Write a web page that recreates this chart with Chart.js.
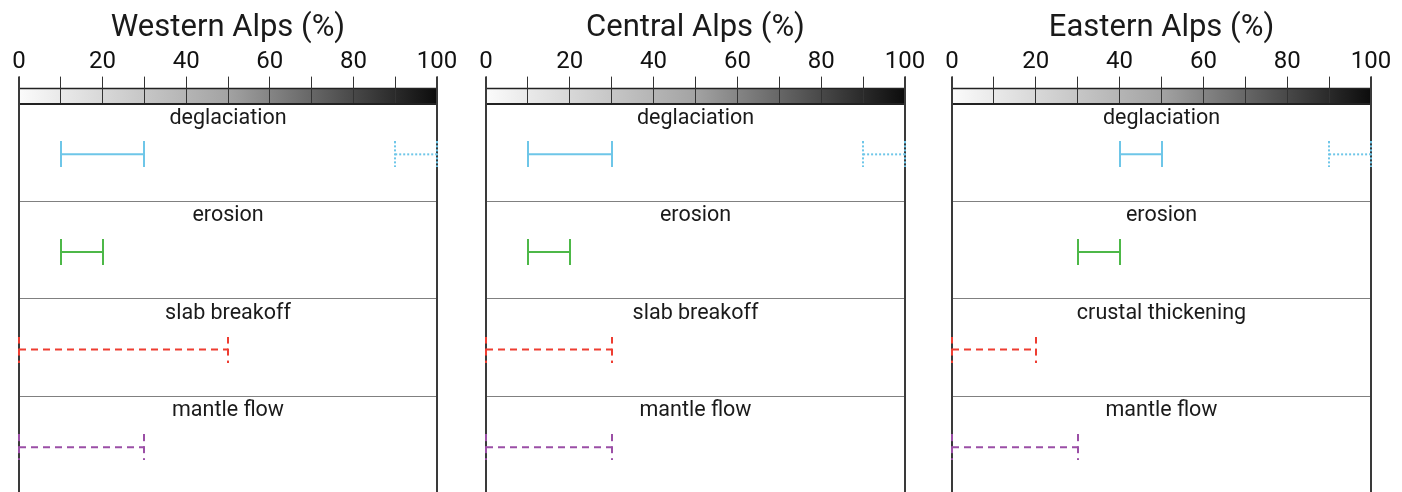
<!DOCTYPE html>
<html>
<head>
<meta charset="utf-8">
<title>Alps</title>
<script src="https://cdn.jsdelivr.net/npm/chart.js@4"></script>
<style>
  html, body { margin: 0; padding: 0; background: #fff; overflow: hidden; }
  #wrap { position: relative; width: 1402px; height: 492px; overflow: hidden; }
  #wrap canvas { position: absolute; top: 0; }
</style>
</head>
<body>
<div id="wrap">
  <canvas id="west" width="467" height="494" style="left:0"></canvas>
  <canvas id="central" width="467" height="494" style="left:467px"></canvas>
  <canvas id="east" width="469" height="494" style="left:933px"></canvas>
</div>
<script>
// tick labels on the percentage axis
const tickLabels = [0, 20, 40, 60, 80, 100];

// row names
const westProcesses = ['deglaciation', 'erosion', 'slab breakoff', 'mantle flow'];
const centralProcesses = ['deglaciation', 'erosion', 'slab breakoff', 'mantle flow'];
const eastProcesses = ['deglaciation', 'erosion', 'crustal thickening', 'mantle flow'];

// contribution ranges (%)
const westLow = [10, 10, 0, 0];
const westHigh = [30, 20, 50, 30];
const centralLow = [10, 10, 0, 0];
const centralHigh = [30, 20, 30, 30];
const eastLow = [40, 30, 0, 0];
const eastHigh = [50, 40, 20, 30];

// second (dotted) deglaciation range: west, central, east
const deglacUpperLow = [90, 90, 90];
const deglacUpperHigh = [100, 100, 100];

// styles
const rowColors = ['#6ec6e8', '#4db848', '#ee3d31', '#9b4fa6'];
const rowDash = [[], [], [7, 5], [7, 5]];
const upperDash = [2, 2];
const FONT = 'Roboto';
const ROW_OFFSET = 0.52;

function capImage(color, dash) {
  const c = document.createElement('canvas');
  c.width = 2;
  c.height = 26;
  const g = c.getContext('2d');
  g.strokeStyle = color;
  g.lineWidth = 2;
  g.setLineDash(dash);
  g.beginPath();
  g.moveTo(1, 0);
  g.lineTo(1, 26);
  g.stroke();
  return c;
}

function rangeSet(lo, hi, row, color, dash) {
  return {
    data: [{ x: lo, y: row + ROW_OFFSET }, { x: hi, y: row + ROW_OFFSET }],
    borderColor: color,
    borderWidth: 2,
    borderDash: dash,
    pointStyle: capImage(color, dash),
    pointRadius: 13,
    pointHoverRadius: 13,
    showLine: true,
    fill: false,
    clip: false
  };
}

const frame = {
  id: 'frame',
  beforeDraw(chart) {
    const ctx = chart.ctx;
    const x = chart.scales.x;
    const top = chart.chartArea.top;
    const x0 = x.getPixelForValue(0);
    const x1 = x.getPixelForValue(100);
    const grad = ctx.createLinearGradient(x0, 0, x1, 0);
    grad.addColorStop(0, '#fbfbfb');
    grad.addColorStop(0.5, '#a3a3a3');
    grad.addColorStop(1, '#0c0c0c');
    ctx.save();
    ctx.fillStyle = grad;
    ctx.fillRect(x0, top - 15, x1 - x0, 15);
    ctx.strokeStyle = '#222';
    ctx.lineWidth = 1.5;
    ctx.beginPath();
    ctx.moveTo(x0, top - 15);
    ctx.lineTo(x1, top - 15);
    ctx.stroke();
    ctx.restore();
  },
  beforeDatasetsDraw(chart) {
    const ctx = chart.ctx;
    const x = chart.scales.x;
    const a = chart.chartArea;
    ctx.save();
    ctx.strokeStyle = '#3a3a3a';
    ctx.lineWidth = 2;
    [0, 100].forEach(v => {
      const px = x.getPixelForValue(v);
      ctx.beginPath();
      ctx.moveTo(px, a.top - 27);
      ctx.lineTo(px, a.bottom);
      ctx.stroke();
    });
    ctx.restore();
  },
  afterDatasetsDraw(chart) {
    const ctx = chart.ctx;
    const y = chart.scales.y;
    const a = chart.chartArea;
    const names = chart.options.plugins.frame.names;
    ctx.save();
    ctx.font = '21.5px ' + FONT;
    ctx.fillStyle = '#1a1a1a';
    ctx.textAlign = 'center';
    ctx.textBaseline = 'alphabetic';
    names.forEach((n, i) => {
      ctx.fillText(n, (a.left + a.right) / 2, y.getPixelForValue(i) + 20);
    });
    ctx.restore();
  }
};

function makePanel(id, title, names, low, high, upperLo, upperHi, padRight) {
  const datasets = [];
  names.forEach((n, i) => {
    datasets.push(rangeSet(low[i], high[i], i, rowColors[i], rowDash[i]));
  });
  datasets.push(rangeSet(upperLo, upperHi, 0, rowColors[0], upperDash));

  new Chart(document.getElementById(id), {
    type: 'scatter',
    data: { datasets: datasets },
    plugins: [frame],
    options: {
      responsive: false,
      animation: false,
      events: [],
      layout: { autoPadding: false, padding: { left: 19, right: padRight, top: 0, bottom: 0 } },
      plugins: {
        legend: { display: false },
        tooltip: { enabled: false },
        title: {
          display: true,
          text: title,
          color: '#1a1a1a',
          font: { family: FONT, size: 31, weight: 'normal', lineHeight: 1.2 },
          padding: { top: 10, bottom: 0 }
        },
        frame: { names: names }
      },
      scales: {
        x: {
          type: 'linear',
          position: 'top',
          min: 0,
          max: 100,
          ticks: {
            stepSize: 10,
            autoSkip: false,
            maxRotation: 0,
            padding: 1.5,
            color: '#111',
            font: { family: FONT, size: 24, lineHeight: 1.1 },
            callback: v => tickLabels.includes(v) ? String(v) : ''
          },
          grid: { drawOnChartArea: false, tickLength: 27, color: '#333', lineWidth: 1 },
          border: { color: '#222', width: 2 }
        },
        y: {
          type: 'linear',
          min: 0,
          max: 4,
          reverse: true,
          ticks: { display: false, stepSize: 1 },
          grid: { color: '#808080', lineWidth: 1, drawTicks: false },
          border: { display: false },
          afterFit: s => { s.width = 0; }
        }
      }
    }
  });
}

makePanel('west', 'Western Alps (%)', westProcesses, westLow, westHigh, deglacUpperLow[0], deglacUpperHigh[0], 30);
makePanel('central', 'Central Alps (%)', centralProcesses, centralLow, centralHigh, deglacUpperLow[1], deglacUpperHigh[1], 29);
makePanel('east', 'Eastern Alps (%)', eastProcesses, eastLow, eastHigh, deglacUpperLow[2], deglacUpperHigh[2], 31);
</script>
</body>
</html>
